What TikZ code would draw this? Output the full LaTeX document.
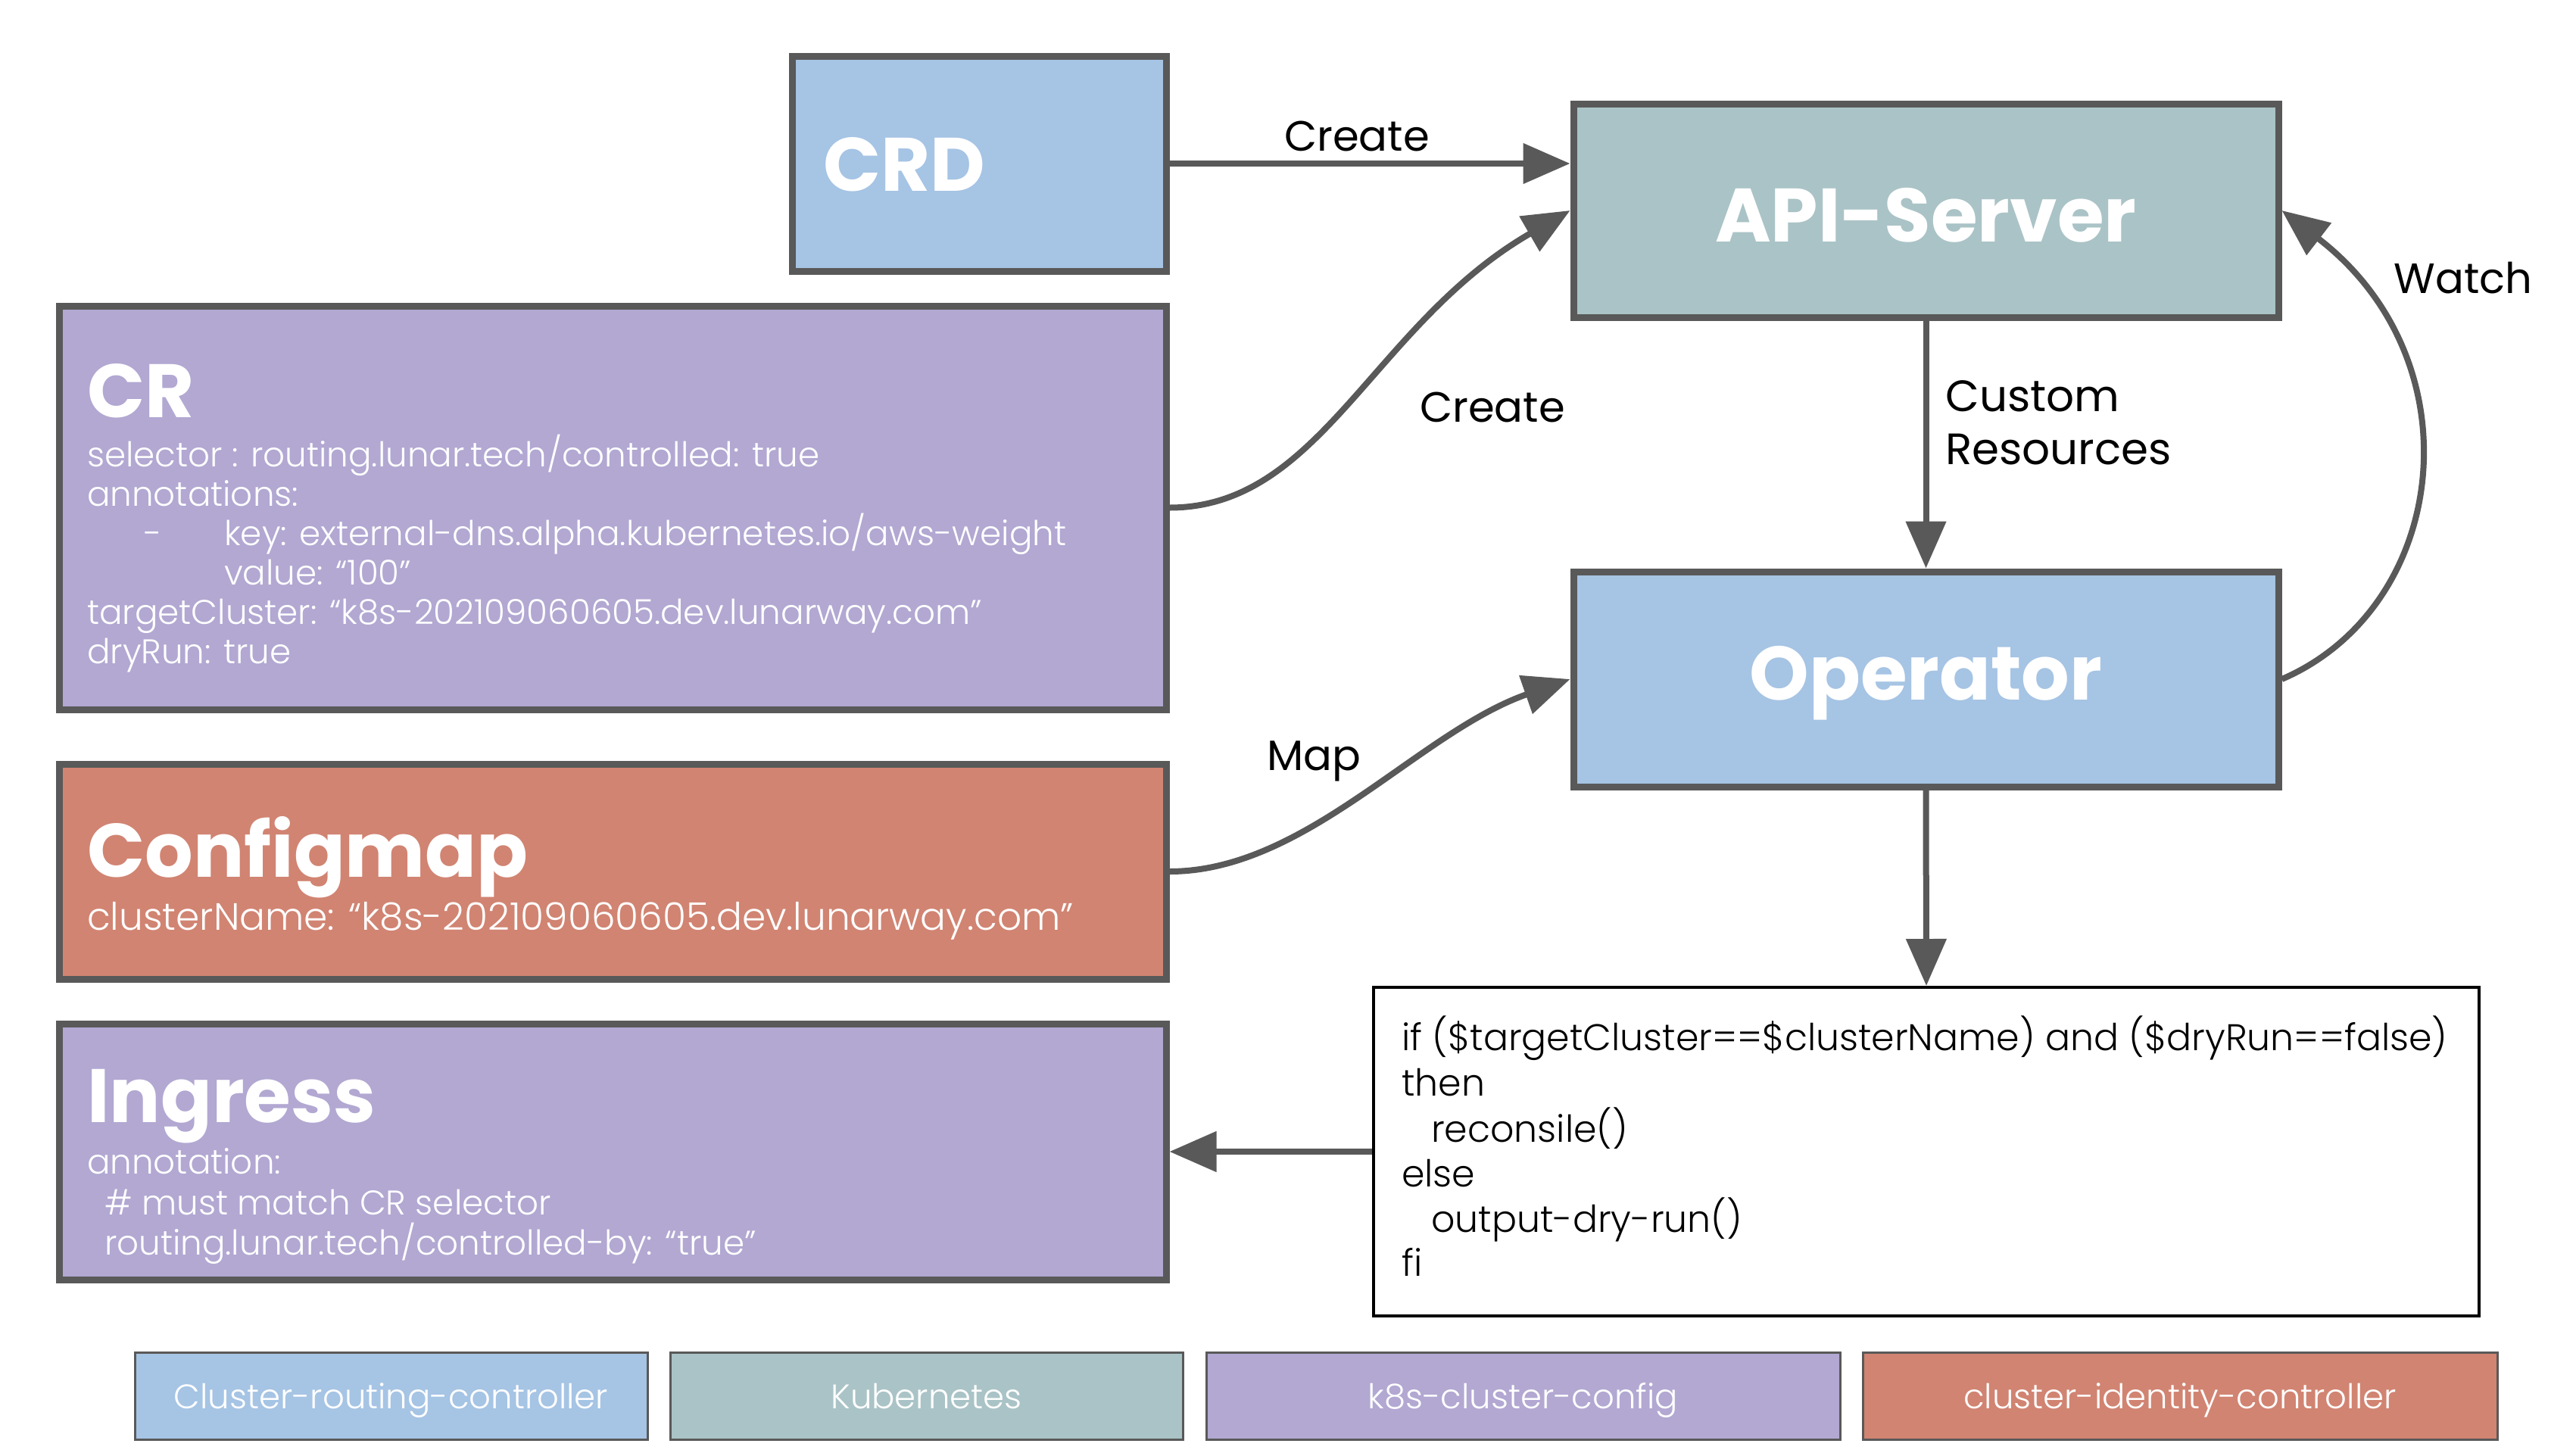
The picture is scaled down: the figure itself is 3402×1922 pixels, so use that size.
\documentclass[tikz,border=0pt]{standalone}
\usepackage{fontspec}
\setmainfont{Poppins}
\newfontfamily\lightfont{Poppins Light}
\usetikzlibrary{arrows.meta}
\definecolor{cblue}{HTML}{A6C4E4}
\definecolor{cteal}{HTML}{AAC3C6}
\definecolor{cpurple}{HTML}{B2A8D2}
\definecolor{csalmon}{HTML}{D18472}
\definecolor{cgray}{HTML}{595959}
\begin{document}
\begin{tikzpicture}[x=1pt,y=-1pt,
  box/.style={draw=cgray, line width=9pt, inner sep=0pt, rectangle},
  legend/.style={draw=cgray, line width=3pt, inner sep=0pt, rectangle, minimum height=115pt,
     text=white, text height=33pt, text depth=0pt, font=\lightfont\fontsize{45}{50}\selectfont},
  title/.style={anchor=base west, text=white, inner sep=0pt, font=\fontsize{100}{110}\selectfont\bfseries},
  ctitle/.style={text=white, inner sep=0pt, font=\fontsize{100}{110}\selectfont\bfseries},
  body/.style={anchor=base west, text=white, inner sep=0pt, font=\lightfont\fontsize{45.2}{50}\selectfont},
  code/.style={anchor=base west, text=black, inner sep=0pt, font=\lightfont\fontsize{49}{54}\selectfont},
  lbl/.style={text=black, inner sep=0pt, font=\fontsize{56}{66}\selectfont},
  conn/.style={draw=cgray, line width=8pt, -{Triangle[length=62pt,width=52pt]}}
]
\useasboundingbox (0,0) rectangle (3402,1922);
\fill[white] (0,0) rectangle (3402,1922);

% boxes
\node[box, fill=cblue, minimum width=494pt, minimum height=284pt] (crd) at (1293,216) {};
\node[box, fill=cteal, minimum width=931pt, minimum height=282pt] (api) at (2543.5,278) {};
\node[box, fill=cpurple, minimum width=1462pt, minimum height=533pt] (cr) at (809,670.5) {};
\node[box, fill=cblue, minimum width=931pt, minimum height=284pt] (op) at (2543.5,897) {};
\node[box, fill=csalmon, minimum width=1462pt, minimum height=284pt] (cm) at (809,1151) {};
\node[draw=black, line width=4pt, fill=white, inner sep=0pt, minimum width=1460pt, minimum height=434pt] (code) at (2544,1521) {};
\node[box, fill=cpurple, minimum width=1462pt, minimum height=338pt] (ing) at (809,1521) {};

% titles
\node[title] (crdt) at (1087,252) {CRD};
\node[ctitle] (apit) at (2543.5,284) {API-Server};
\node[ctitle] (opt) at (2543.5,902) {Operator};
\node[title] (crt) at (115,551) {CR};
\node[title] (cmt) at (115,1158) {Configmap};
\node[title] (ingt) at (115,1482) {Ingress};

% CR body
\node[body] (cr1) at (115,616) {selector : routing.lunar.tech/controlled: true};
\node[body] (cr2) at (115,668) {annotations:};
\node[body] (cr3a) at (190,720) {-};
\node[body] (cr3) at (296,720) {key: external-dns.alpha.kubernetes.io/aws-weight};
\node[body] (cr4) at (296,772) {value: “100”};
\node[body] (cr5) at (115,824) {targetCluster: “k8s-202109060605.dev.lunarway.com”};
\node[body] (cr6) at (115,876) {dryRun: true};

% Configmap body
\node[body, font=\lightfont\fontsize{50.2}{54}\selectfont] (cm1) at (115,1228) {clusterName: “k8s-202109060605.dev.lunarway.com”};

% Ingress body
\node[body] (ing1) at (115,1550) {annotation:};
\node[body] (ing2) at (138,1604) {\# must match CR selector};
\node[body] (ing3) at (138,1657) {routing.lunar.tech/controlled-by: “true”};

% code
\node[code] (c1) at (1851,1387) {if (\$targetCluster==\$clusterName) and (\$dryRun==false)};
\node[code] (c2) at (1851,1447) {then};
\node[code] (c3) at (1890,1508) {reconsile()};
\node[code] (c4) at (1851,1567) {else};
\node[code] (c5) at (1890,1627) {output-dry-run()};
\node[code] (c6) at (1851,1685) {fi};

% legend
\node[legend, fill=cblue, minimum width=677pt] (l1) at (516.5,1843.5) {Cluster-routing-controller};
\node[legend, fill=cteal, minimum width=677pt] (l2) at (1223.5,1843.5) {Kubernetes};
\node[legend, fill=cpurple, minimum width=837pt] (l3) at (2011.5,1843.5) {k8s-cluster-config};
\node[legend, fill=csalmon, minimum width=838pt] (l4) at (2879,1843.5) {cluster-identity-controller};

% connectors
\draw[conn] (crd.east) -- (crd.east -| api.west);
\draw[conn] (cr.east) .. controls +(200,0) and +(-260,150) .. (api.west);
\draw[conn] (cm.east) .. controls +(180,0) and +(-200,70) .. (op.west);
\draw[conn] (api.south) -- (op.north);
\draw[conn] (op.east) .. controls +(220,-95) and +(260,200) .. (api.east);
\draw[conn] (op.south) -- (code.north);
\draw[conn] (code.west) -- (ing.east);

% labels
\node[lbl] (lcreate1) at (1792,180) {Create};
\node[lbl] (lcreate2) at (1971,538) {Create};
\node[lbl, anchor=west, align=left, font=\fontsize{58}{70}\selectfont] (lcustom) at (2569,558) {Custom\\Resources};
\node[lbl] (lwatch) at (3253,367) {Watch};
\node[lbl] (lmap) at (1735,1005) {Map};
\end{tikzpicture}
\end{document}
